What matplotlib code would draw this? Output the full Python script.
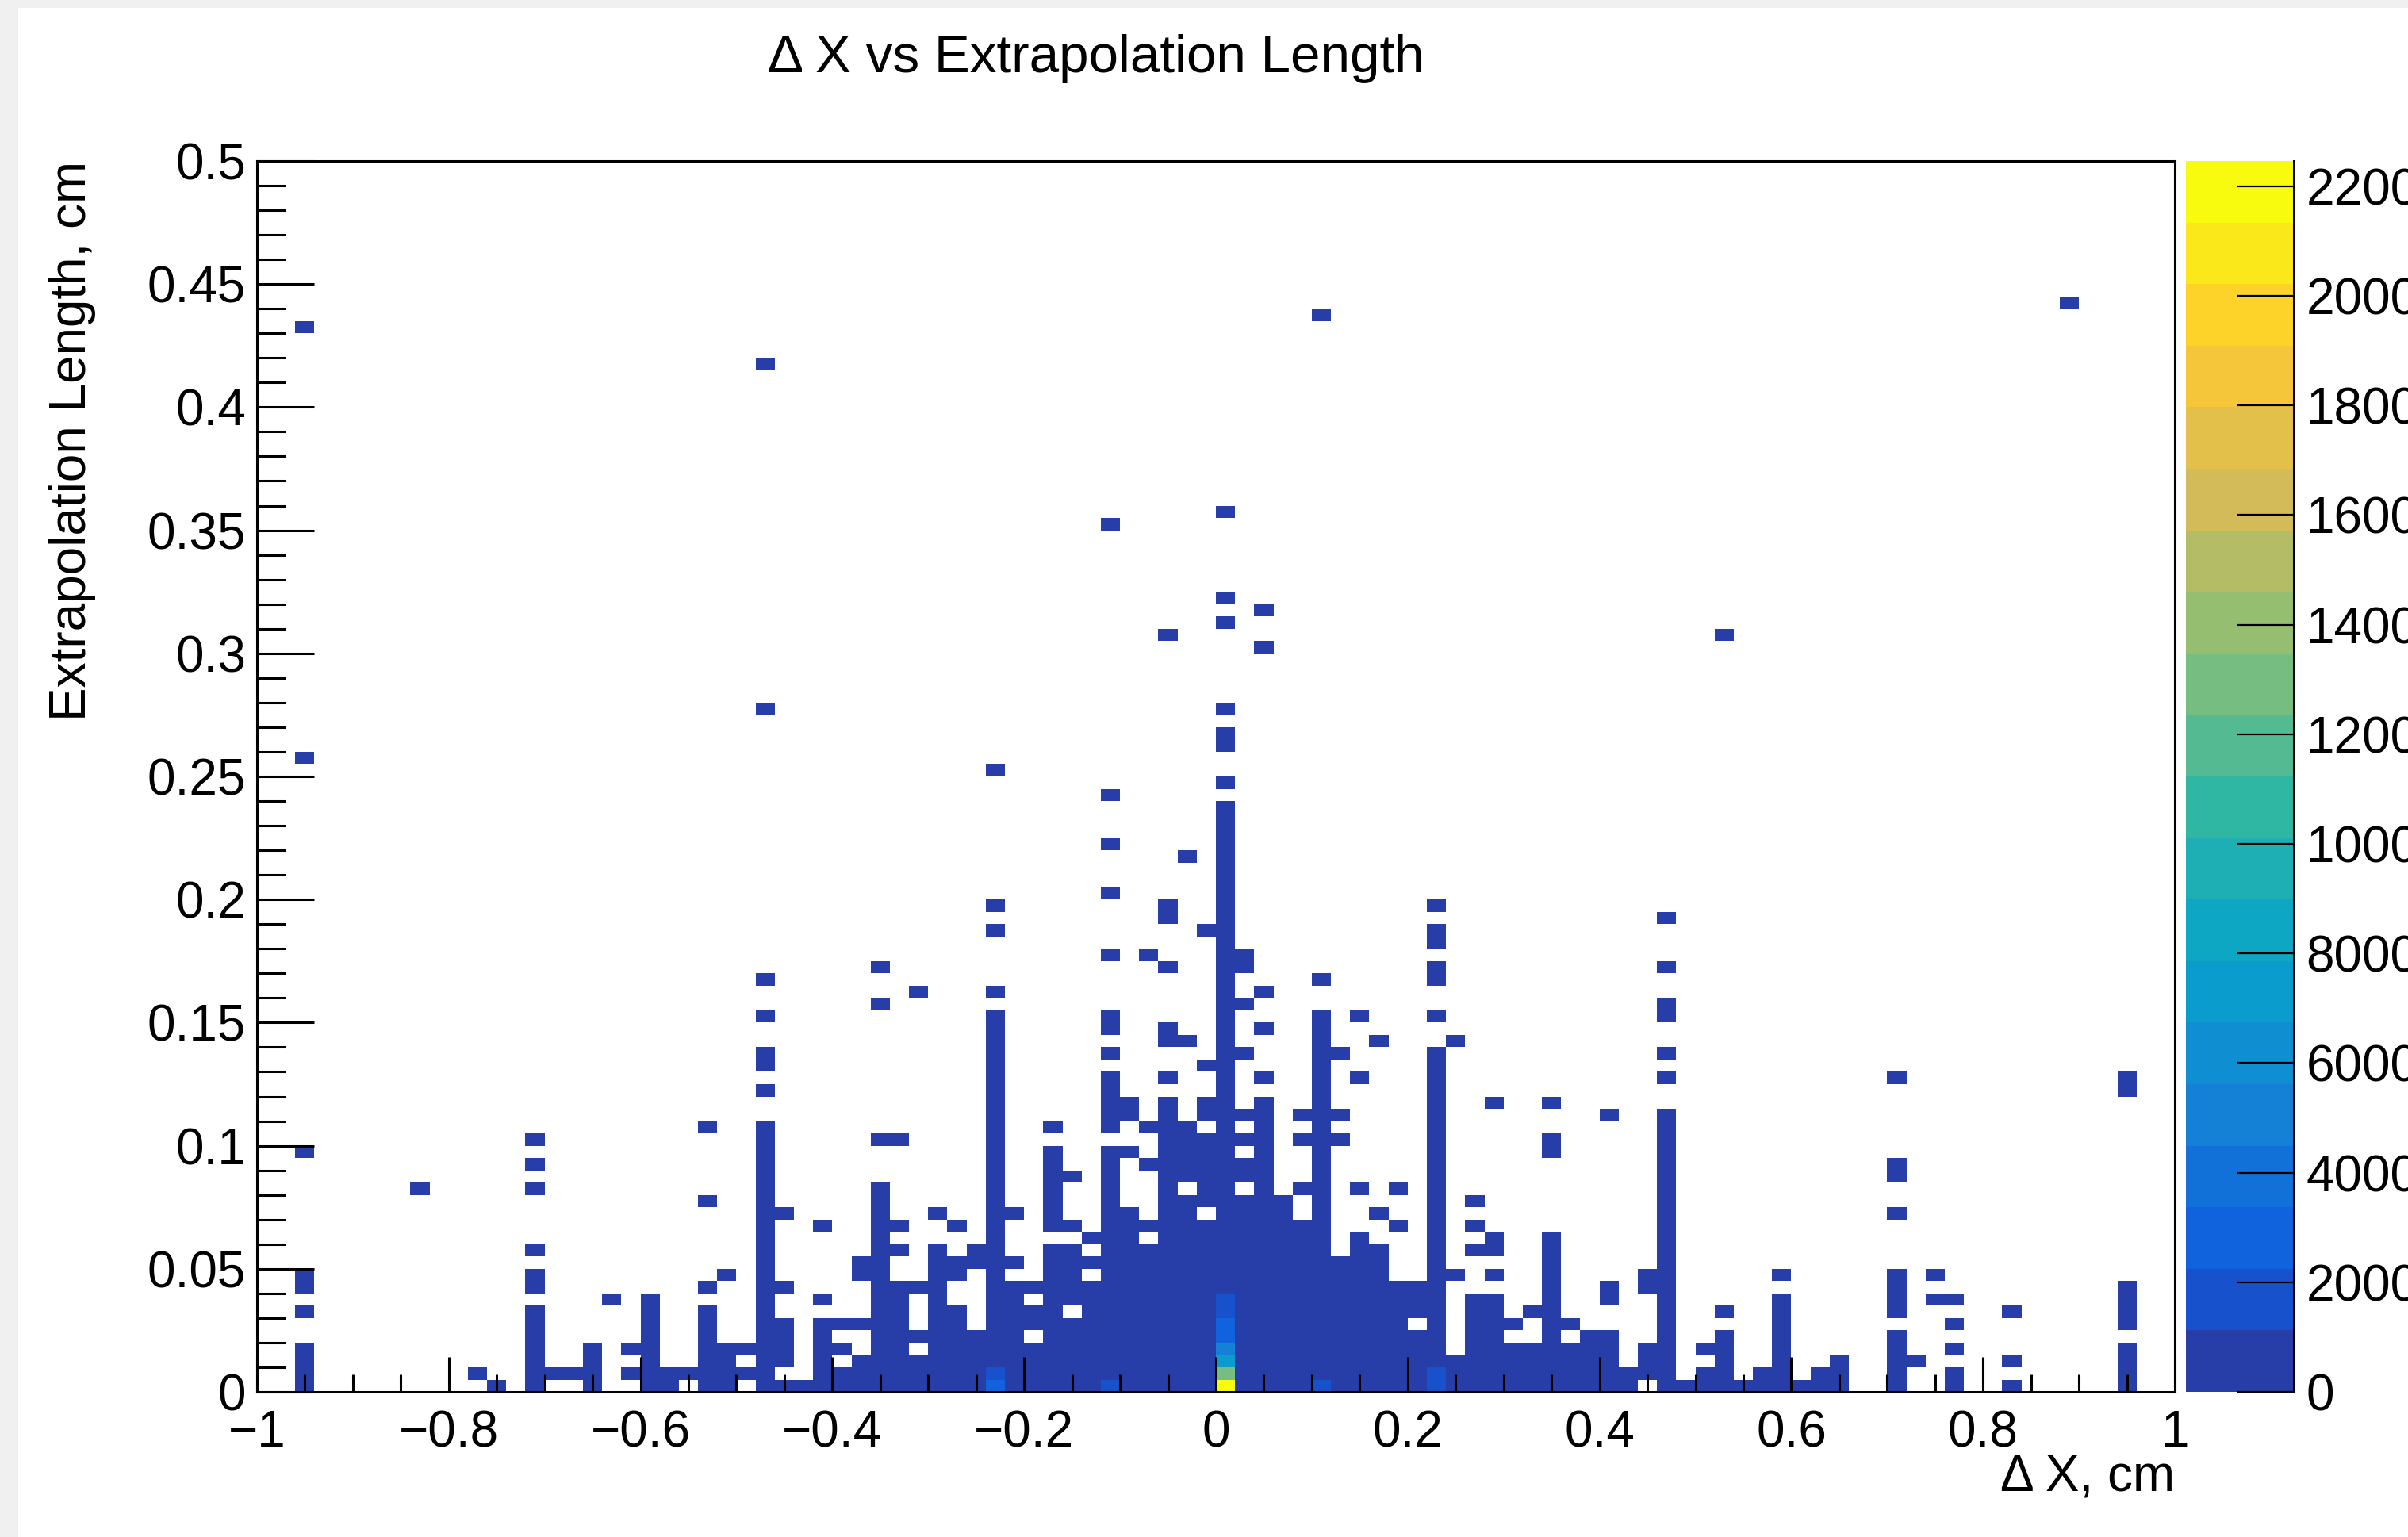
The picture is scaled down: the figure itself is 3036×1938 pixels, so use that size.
import numpy as np
import matplotlib
matplotlib.use("Agg")
import matplotlib.pyplot as plt
from matplotlib.colors import LinearSegmentedColormap, ListedColormap, BoundaryNorm
from matplotlib.patches import Rectangle
from matplotlib.ticker import MultipleLocator, FuncFormatter

plt.rcParams['font.family'] = ['Liberation Sans', 'DejaVu Sans']

# histogram binning: 100 bins in dX (-1..1), 100 bins in length (0..0.5)
x_edges = np.linspace(-1.0, 1.0, 101)
y_edges = np.linspace(0.0, 0.5, 101)

# filled cells, column by column (dX bin index -> length bin runs)
col_index = [2, 8, 11, 12, 14, 15, 16, 17, 18, 19, 20, 21, 22, 23, 24, 25,
             26, 27, 28, 29, 30, 31, 32, 33, 34, 35, 36, 37, 38, 39, 40, 41,
             42, 43, 44, 45, 46, 47, 48, 49, 50, 51, 52, 53, 54, 55, 56, 57,
             58, 59, 60, 61, 62, 63, 64, 65, 66, 67, 68, 69, 70, 71, 72, 73,
             74, 75, 76, 77, 78, 79, 80, 81, 82, 85, 86, 87, 88, 91, 94, 97]
col_rows = [
    "0-3,6,8-9,19,51,86", "16", "1", "0", "0-6,8-9,11,16,18,20", "1", "1",
    "0-3", "7", "1,3", "0-7", "0-1", "1", "0-6,8,15,21", "0-3,9", "1,3",
    "0-21,24,26-27,30,33,55,83", "0,2-5,8,14", "0", "0-5,7,13", "0-1,3,5",
    "0-2,5,9-10", "0-16,20,31,34", "0-8,11,13,20", "0-2,4,8,32", "0-11,14",
    "0-6,9-10,13", "0-4,10-11", "0-30,32,37,39,50", "0-8,10,14",
    "0-3,5-6,8", "0-11,13-19,21", "0-5,7-11,13,17", "0-8,10,12",
    "0-19,21-25,27,29-30,35,40,44,48,70", "0-14,19,22-23",
    "0-11,13,18,21,35", "0-23,25,28-29,34,38-39,61", "0-15,17-21,28,43",
    "0-13,15-20,22-23,26,37", "0-47,49,52-53,55,62,64,71",
    "0-15,17-18,20,22,27,31,34-35", "0-23,25,29,32,60,63", "0-15",
    "0-13,16,20,22", "0-30,33,87", "0-10,20,22,27", "0-12,16,25,30",
    "0-11,14,28", "0-8,13,16", "0-4,6-8", "0-27,30,33-34,36-37,39",
    "0-2,9,28", "0-7,11,13,15", "0-7,9,11-12,23", "0-3,5", "0-3,6",
    "0-12,19-20,23", "0-3,5", "0-4", "0-4,7-8,22", "0-1", "1-3,8-9",
    "0-22,25,27,30-31,34,38", "0", "0-1,3", "0-4,6,61", "0", "0-1",
    "0-7,9", "0", "0-1", "0-2", "0-4,6-9,14,17-18,25", "2", "7,9",
    "0-1,3,5,7", "0,2,6", "88", "0-3,5-8,24-25",
]
low_count = 1

# cells with large content (the peak around dX = 0)
hot_col = [50, 50, 50, 50, 50, 50, 50, 50, 38, 38, 44, 55, 61, 61]
hot_row = [0, 1, 2, 3, 4, 5, 6, 7, 0, 1, 0, 0, 0, 1]
hot_count = [22460, 12900, 7300, 5000, 2800, 2800, 1600, 1600,
             2800, 1500, 1300, 1400, 1300, 1200]

cbar_ticks = list(range(0, 22001, 2000))


def parse_rows(spec):
    out = []
    for part in spec.split(","):
        if "-" in part:
            a, b = part.split("-")
            out.extend(range(int(a), int(b) + 1))
        else:
            out.append(int(part))
    return out


H = np.zeros((100, 100))
for ci, spec in zip(col_index, col_rows):
    for r in parse_rows(spec):
        H[ci, r] = low_count
for ci, r, c in zip(hot_col, hot_row, hot_count):
    H[ci, r] = c
zmax = H.max()

# ROOT kBird palette, 20 contour levels
stops = [0.0, 0.125, 0.25, 0.375, 0.5, 0.625, 0.75, 0.875, 1.0]
red = [0.2082, 0.0592, 0.0780, 0.0232, 0.1802, 0.5301, 0.8186, 0.9956, 0.9764]
green = [0.1664, 0.3599, 0.5041, 0.6419, 0.7178, 0.7492, 0.7328, 0.7862, 0.9832]
blue = [0.5293, 0.8684, 0.8385, 0.7914, 0.6425, 0.4662, 0.3499, 0.1968, 0.0539]
bird = LinearSegmentedColormap.from_list(
    "bird", [(s, (r, g, b)) for s, r, g, b in zip(stops, red, green, blue)])
ncont = 20
band_cols = [bird(int((k + 0.99) * 255 / ncont) / 254.0) for k in range(ncont)]
cmap = ListedColormap(band_cols)
norm = BoundaryNorm(np.linspace(0, zmax, ncont + 1), ncont)

fig = plt.figure(figsize=(30.36, 19.38), dpi=100)
fig.patch.set_facecolor("#f0f0f0")
fig.patches.append(Rectangle((23 / 3036, 0), 1, 1 - 10 / 1938, transform=fig.transFigure,
                             facecolor="white", edgecolor="none", zorder=-1))

ax = fig.add_axes([0.1067, 0.0944, 0.7965, 0.8009])
cax = fig.add_axes([0.9078, 0.0944, 0.0448, 0.8009])

mesh = ax.pcolormesh(x_edges, y_edges, np.ma.masked_equal(H.T, 0), cmap=cmap, norm=norm,
                     shading="flat", antialiased=False, linewidth=0)
ax.set_xlim(-1, 1)
ax.set_ylim(0, 0.5)


def fmt(v, pos):
    s = "%g" % round(v, 4)
    return s.replace("-", "\u2212")


ax.xaxis.set_major_locator(MultipleLocator(0.2))
ax.xaxis.set_minor_locator(MultipleLocator(0.05))
ax.yaxis.set_major_locator(MultipleLocator(0.05))
ax.yaxis.set_minor_locator(MultipleLocator(0.01))
ax.xaxis.set_major_formatter(FuncFormatter(fmt))
ax.yaxis.set_major_formatter(FuncFormatter(fmt))
ax.tick_params(axis="x", which="major", direction="in", length=32, width=2.2, pad=16,
               labelsize=46, top=False)
ax.tick_params(axis="x", which="minor", direction="in", length=16, width=2.2, top=False)
ax.tick_params(axis="y", which="major", direction="in", length=52, width=2.2, pad=10,
               labelsize=46, right=False)
ax.tick_params(axis="y", which="minor", direction="in", length=26, width=2.2, right=False)
for sp in ax.spines.values():
    sp.set_linewidth(2.2)

cb = fig.colorbar(mesh, cax=cax, ticks=cbar_ticks, spacing="proportional")
cb.outline.set_visible(False)
cax.yaxis.set_major_formatter(FuncFormatter(lambda v, p: "%d" % v))
cax.tick_params(axis="y", which="both", direction="in", length=52, width=1.6, pad=11,
                labelsize=46, right=True, left=False)
cax.minorticks_off()
cax.plot([1, 1], [0, 1], transform=cax.transAxes, color="black", lw=2.2, clip_on=False)

fig.text(0.455, 0.962, "\u0394 X vs Extrapolation Length", fontsize=48.5,
         ha="center", va="center")
fig.text(0.9032, 0.039, "\u0394 X, cm", fontsize=46, ha="right", va="center")
fig.text(0.030, 0.8953, "Extrapolation Length, cm", fontsize=46, rotation=90,
         ha="center", va="top")

fig.savefig("out.png", dpi=100, facecolor=fig.get_facecolor())
